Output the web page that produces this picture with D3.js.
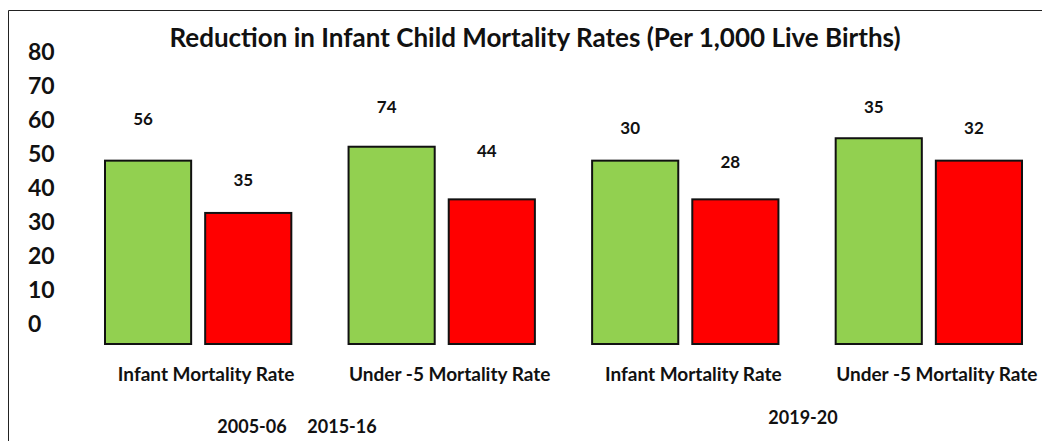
<html>
    <head>
        <meta charset="utf-8">
        <script src="https://d3js.org/d3.v7.min.js"></script>
        <title>Mortality rates</title>
    </head>
    <style>
        body { margin: 0; background: #fff; }
        text { font-family: Lato, "Open Sans", sans-serif; font-weight: bold; fill: #111; }
    </style>
    <body>
        <svg id="chart"></svg>
        <script>
            // data
            const groups = ["Infant Mortality Rate", "Under -5 Mortality Rate", "Infant Mortality Rate", "Under -5 Mortality Rate"];
            const periods = ["2005-06", "2015-16", "2019-20"];
            const yTicks = [0, 10, 20, 30, 40, 50, 60, 70, 80];
            // printed values above the bars
            const greenLabels = [56, 74, 30, 35];
            const redLabels = [35, 44, 28, 32];
            // bar heights as drawn, in axis units (they do not match the printed values)
            const greenHeights = [48, 52.1, 48, 54.6];
            const redHeights = [32.6, 36.6, 36.6, 48];
            // where the printed values sit, in axis units
            const greenLabelAt = [60.3, 63.8, 57.6, 63.8];
            const redLabelAt = [42.3, 50.8, 47.6, 57.6];

            const width = 1042, height = 441;
            let svg = d3.select("svg#chart")
                        .attr("width", width)
                        .attr("height", height);

            // frame
            svg.append("line").attr("x1", 8.5).attr("x2", width).attr("y1", 10.5).attr("y2", 10.5)
               .attr("stroke", "#222").attr("stroke-width", 1);
            svg.append("line").attr("x1", 8.5).attr("x2", 8.5).attr("y1", 10.5).attr("y2", height)
               .attr("stroke", "#222").attr("stroke-width", 1);

            // title
            svg.append("text")
               .attr("x", 535).attr("y", 47)
               .attr("text-anchor", "middle")
               .style("font-size", "26px")
               .text("Reduction in Infant Child Mortality Rates (Per 1,000 Live Births)");

            // scales
            const yScale = d3.scaleLinear().domain([-6, 80]).range([344, 52]);
            const x0 = d3.scaleBand().domain(d3.range(groups.length)).range([105, 1022]).paddingInner(0.235);
            const x1 = d3.scaleBand().domain([0, 1]).range([0, x0.bandwidth()]).paddingInner(0.14);

            // y axis, labels only
            let yAxis = d3.axisLeft(yScale).tickValues(yTicks).tickSize(0).tickPadding(0);
            let yg = svg.append("g")
                        .attr("transform", "translate(28, 0)")
                        .call(yAxis);
            yg.select(".domain").remove();
            yg.selectAll("text")
              .attr("x", 0)
              .attr("text-anchor", "start")
              .style("font-size", "23px")
              .style("font-family", "Lato, sans-serif")
              .attr("fill", "#111");

            const series = [
                {heights: greenHeights, labels: greenLabels, labelAt: greenLabelAt, color: "#92d050"},
                {heights: redHeights, labels: redLabels, labelAt: redLabelAt, color: "#ff0000"}
            ];

            series.forEach((s, si) => {
                groups.forEach((g, i) => {
                    svg.append("rect")
                       .attr("x", x0(i) + x1(si))
                       .attr("y", yScale(s.heights[i]))
                       .attr("width", x1.bandwidth())
                       .attr("height", yScale(-6) - yScale(s.heights[i]))
                       .attr("fill", s.color)
                       .attr("stroke", "#111")
                       .attr("stroke-width", 2);

                    svg.append("text")
                       .attr("x", x0(i) + x1(si) + x1.bandwidth() / 2 - 5)
                       .attr("y", yScale(s.labelAt[i]))
                       .attr("dy", "0.36em")
                       .attr("text-anchor", "middle")
                       .style("font-size", "17px")
                       .text(s.labels[i]);
                });
            });

            // category labels
            groups.forEach((g, i) => {
                svg.append("text")
                   .attr("x", x0(i) + x0.bandwidth() / 2 + 8)
                   .attr("y", 381)
                   .attr("text-anchor", "middle")
                   .style("font-size", "19px")
                   .text(g);
            });

            // period labels (placed as in the original)
            const periodPos = [[252, 433], [342, 433], [803, 424]];
            periods.forEach((p, i) => {
                svg.append("text")
                   .attr("x", periodPos[i][0])
                   .attr("y", periodPos[i][1])
                   .attr("text-anchor", "middle")
                   .style("font-size", "18px")
                   .text(p);
            });
        </script>
    </body>
</html>
